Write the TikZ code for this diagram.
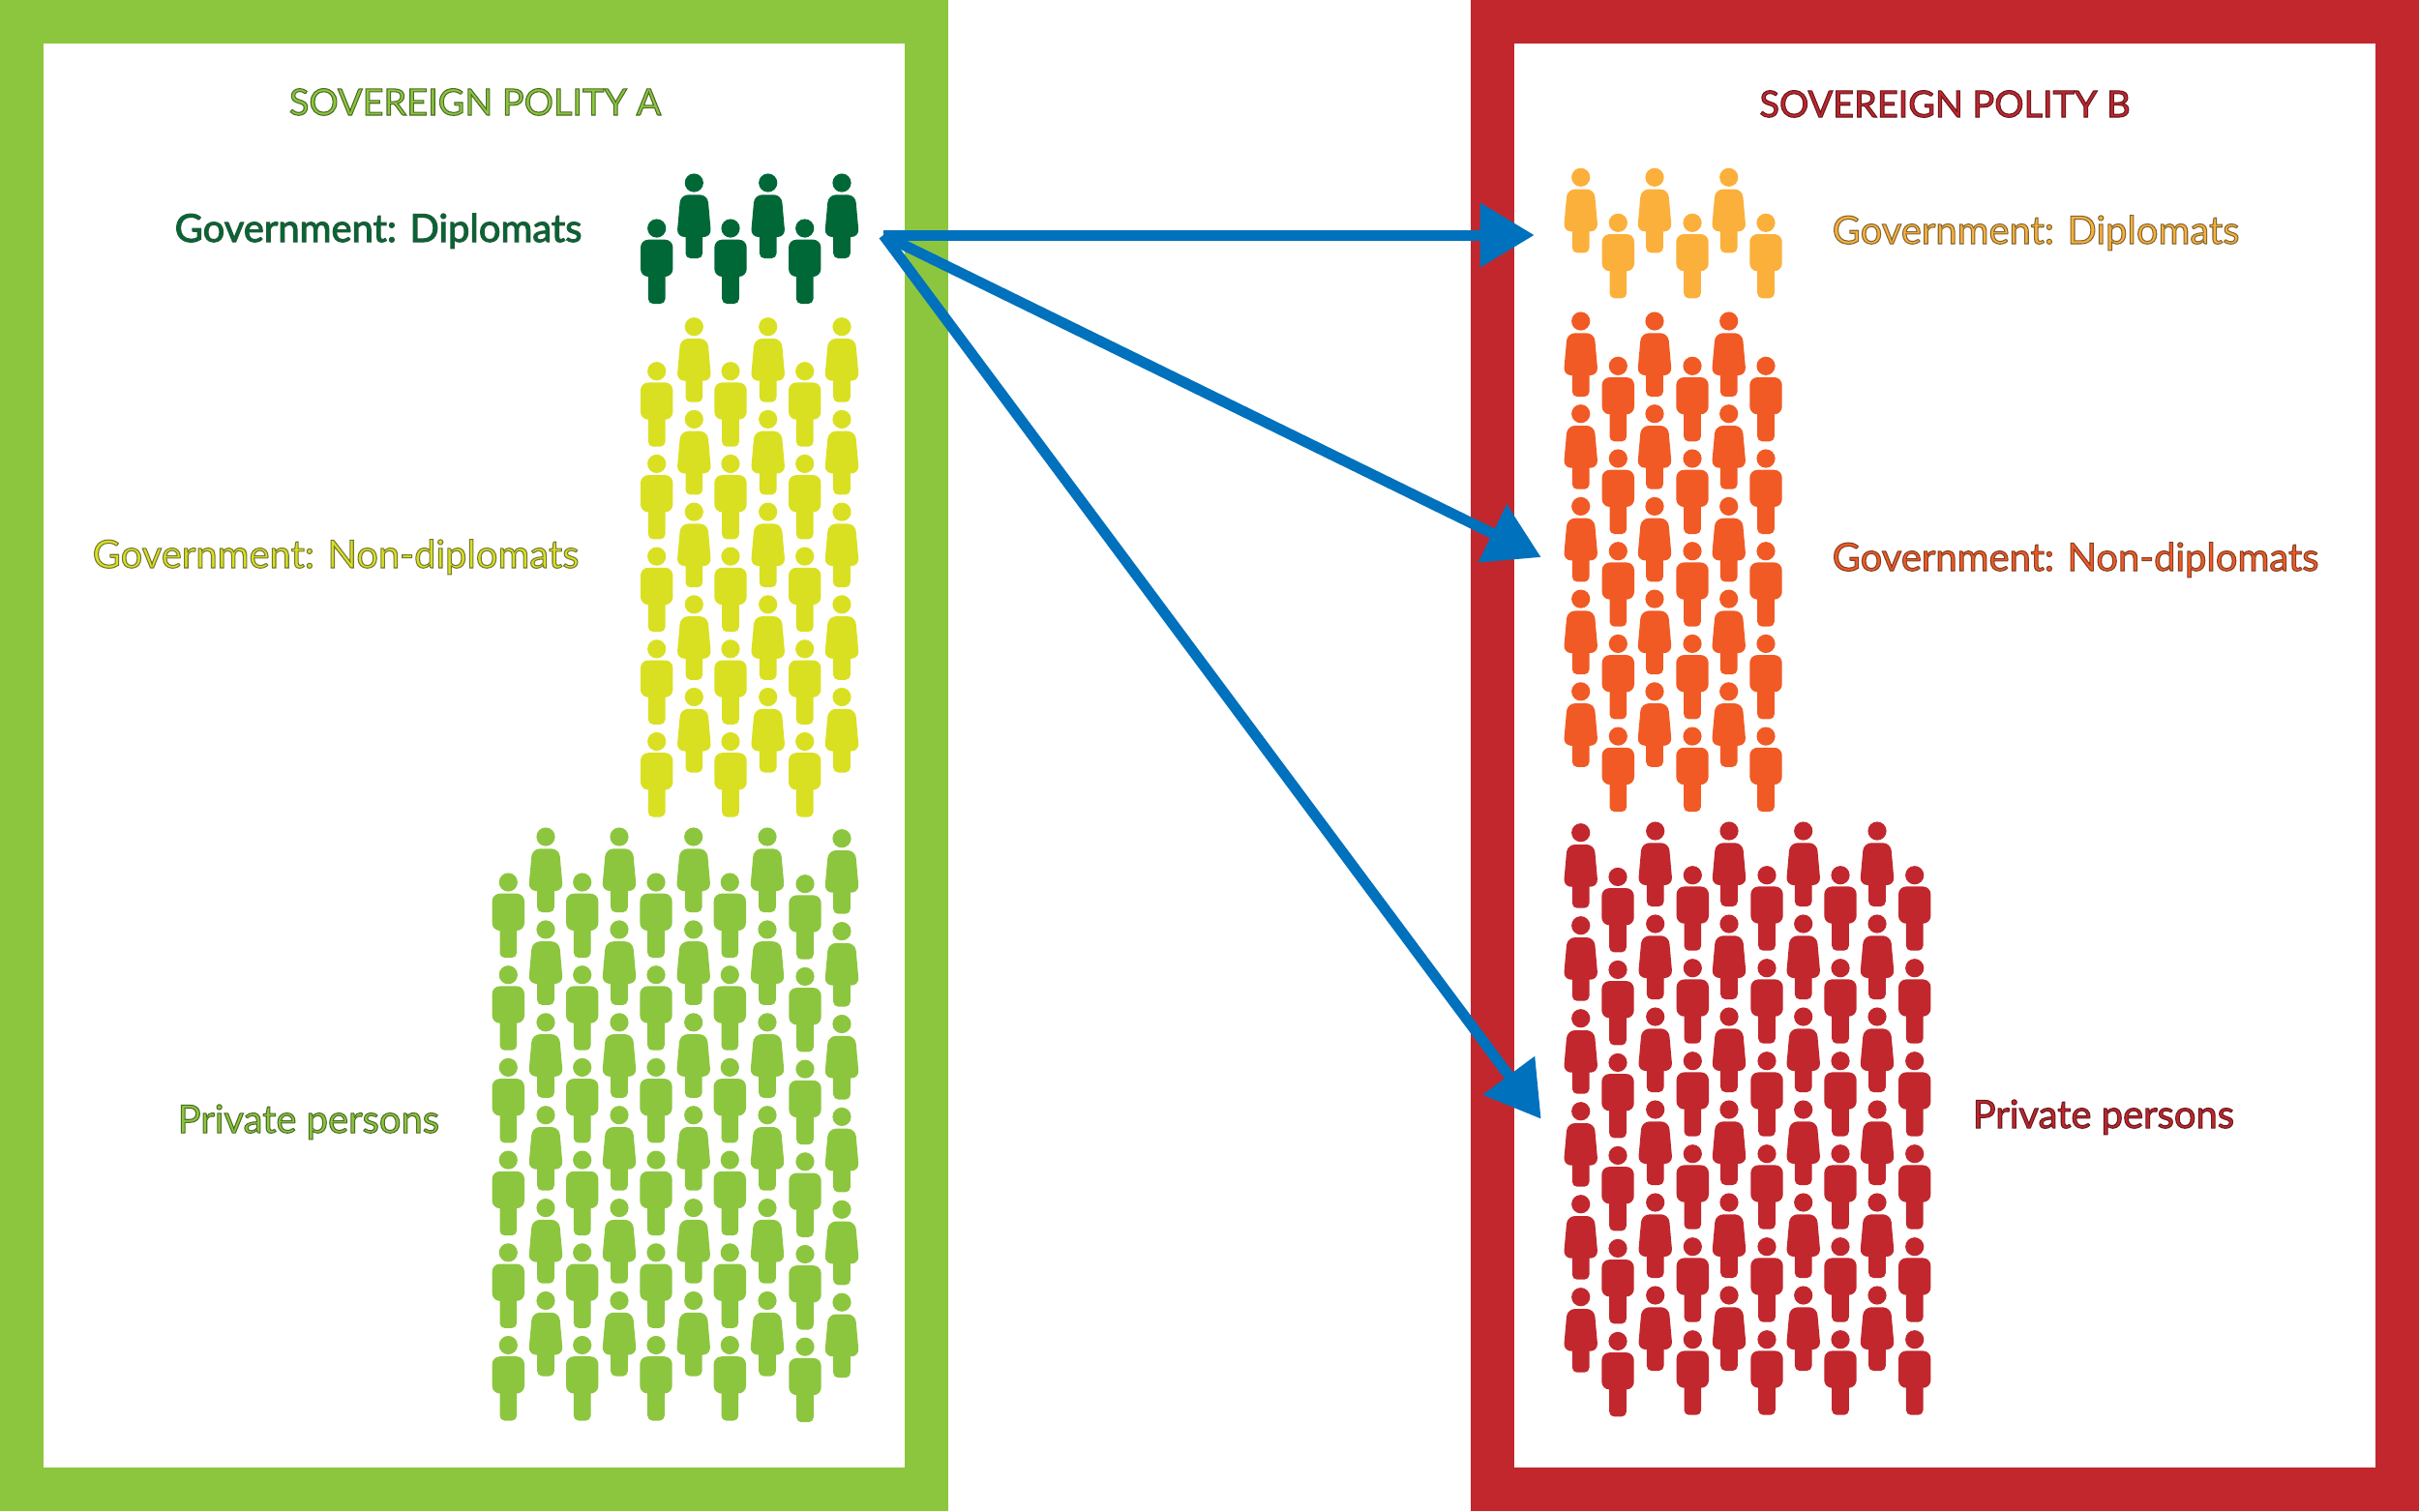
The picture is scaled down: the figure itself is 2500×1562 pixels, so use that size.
\documentclass[tikz,border=0pt]{standalone}
\usepackage{fontspec}
\usepackage{xcolor}
\usetikzlibrary{arrows.meta}
\setmainfont{Lato}
\definecolor{polityA}{HTML}{8CC63F}
\definecolor{dipA}{HTML}{006837}
\definecolor{nondipA}{HTML}{D9E021}
\definecolor{polityB}{HTML}{C1272D}
\definecolor{dipB}{HTML}{FBB03B}
\definecolor{nondipB}{HTML}{F15A24}
\definecolor{flowblue}{HTML}{0071BC}
\tikzset{
  man/.pic     = {\fill (0,0) circle (9.6);
                  \fill[rounded corners=0.8mm] (-16.7,11.7) rectangle (16.7,50);
                  \fill[rounded corners=0.5mm] (-8.8,40) rectangle (8.8,78);},
  woman/.pic   = {\fill (0,0) circle (9.6);
                  \fill[rounded corners=0.8mm] (-14,12.3) -- (14,12.3) -- (17.9,56) -- (-17.9,56) -- cycle;
                  \fill[rounded corners=0.5mm] (-8.8,40) rectangle (8.8,78);},
  frame/.style = {line width=4.5mm},
  title/.style = {anchor=base, inner sep=0pt, font=\fontsize{10.76}{13}\selectfont},
  lab/.style   = {anchor=base west, inner sep=0pt, font=\fontsize{11.35}{13}\selectfont},
  flow/.style  = {-{Triangle[length=5.6mm, width=6.4mm]}, line width=1.1mm, draw=flowblue},
}
% fill + thin stroke round the glyphs
\newcommand{\outl}[2]{\special{pdf:code 2 Tr 0.3 w #1 RG}#2\special{pdf:code 0 Tr}}

\begin{document}
\begin{tikzpicture}[x=0.01cm, y=-0.01cm]
  \useasboundingbox (0,0) rectangle (2500,1562);
  % frames
  \draw[frame, polityA] (22.5,22.5) rectangle (957.5,1539.5);
  \draw[frame, polityB] (1542.5,22.5) rectangle (2477.5,1539.5);

  % polity A
  \begin{scope}[fill=dipA]
    \foreach \x in {678.7,755,831.7} \pic at (\x,236) {man};
    \foreach \x in {717.3,793.7,870} \pic at (\x,189) {woman};
  \end{scope}
  \begin{scope}[fill=nondipA]
    \foreach \x in {678.7,755,831.7} \foreach \r in {0,...,4} \pic at (\x,{383.7+\r*95.7}) {man};
    \foreach \x in {717.3,793.7,870} \foreach \r in {0,...,4} \pic at (\x,{337.7+\r*95.7}) {woman};
  \end{scope}
  \begin{scope}[fill=polityA]
    \foreach \x/\d in {525.3/0,601.7/0,678/0,754.3/0,832/1.7} \foreach \r in {0,...,5} \pic at (\x,{912+\d+\r*95.7}) {man};
    \foreach \x/\d in {564/0,640/0,716.7/0,793/0,870/1.7} \foreach \r in {0,...,5} \pic at (\x,{865+\d+\r*95.9}) {woman};
  \end{scope}

  % polity B
  \begin{scope}[fill=dipB]
    \foreach \x in {1633.7,1710,1786.7} \pic at (\x,183.3) {woman};
    \foreach \x in {1672.3,1749,1825} \pic at (\x,230.3) {man};
  \end{scope}
  \begin{scope}[fill=nondipB]
    \foreach \x in {1633.7,1710,1786.7} \foreach \r in {0,...,4} \pic at (\x,{332+\r*95.7}) {woman};
    \foreach \x in {1672.3,1749,1825} \foreach \r in {0,...,4} \pic at (\x,{378.3+\r*95.7}) {man};
  \end{scope}
  \begin{scope}[fill=polityB]
    \foreach \x/\d in {1633.7/1.7,1710.7/0,1787/0,1863.7/0,1940/0} \foreach \r in {0,...,5} \pic at (\x,{859+\d+\r*96}) {woman};
    \foreach \x/\d in {1672/1.7,1749.3/0,1826/0,1902/0,1978.7/0} \foreach \r in {0,...,5} \pic at (\x,{904.7+\d+\r*96}) {man};
  \end{scope}

  % labels
  \node[title, text=polityA] (titleA) at (491,119) {\outl{0.3 0.42 0.15}{SOVEREIGN POLITY A}};
  \node[title, text=polityB] (titleB) at (2010,121) {\outl{0.4 0.1 0.12}{SOVEREIGN POLITY B}};
  \node[lab, text=dipA] (labdipA) at (180,250) {\outl{0.15 0.35 0.22}{Government: Diplomats}};
  \node[lab, text=nondipA] (labnondipA) at (95,587) {\outl{0.45 0.47 0.2}{Government: Non-diplomats}};
  \node[lab, text=polityA] (labprivA) at (183,1171) {\outl{0.3 0.42 0.15}{Private persons}};
  \node[lab, text=dipB] (labdipB) at (1893,252) {\outl{0.5 0.4 0.2}{Government: Diplomats}};
  \node[lab, text=nondipB] (labnondipB) at (1893,590) {\outl{0.5 0.25 0.15}{Government: Non-diplomats}};
  \node[lab, text=polityB] (labprivB) at (2038,1166) {\outl{0.4 0.1 0.12}{Private persons}};

  % arrows
  \coordinate (src) at (913,243);
  \coordinate (toDip) at (1585.7,243);
  \coordinate (toNondip) at (1592.7,576);
  \coordinate (toPriv) at (1592.7,1156.7);
  \draw[flow] (src) -- (toDip);
  \draw[flow] (src) -- (toNondip);
  \draw[flow] (src) -- (toPriv);
\end{tikzpicture}
\end{document}
